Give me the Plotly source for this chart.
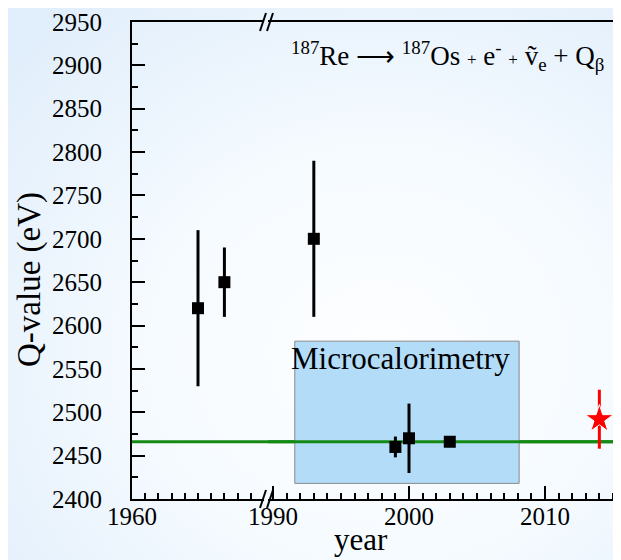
import base64
import plotly.graph_objects as go

# ---------------- data ----------------
years_early = [1965, 1967]
q_early = [2620, 2650]
err_early = [90, 40]

years_late = [1993, 1999, 2000, 2003]
q_late = [2700, 2460, 2470, 2466]
err_late = [90, 12, 40, 3]

star_year = [2014]
star_q = [2492]
star_err = [34]

reference_q = 2466
micro_box_years = [1991.6, 2008.1]
micro_box_q = [2418, 2582]

y_range = [2400, 2950]
x_left_range = [1960, 1970]
x_right_range = [1989.63, 2016.18]
x_left_ticks = [1960]
x_right_ticks = [1990, 2000, 2010]

# ---------------- geometry helpers (pixel -> paper) ----------------
W, H = 621, 560
L, T, B, R = 124, 14, 69, 0
PW, PH = W - L - R, H - T - B


def px(x):
    return (x - L) / PW


def py(y):
    return (H - B - y) / PH


FONT = "Liberation Serif"

fig = go.Figure()

fig.add_trace(go.Scatter(
    x=years_early, y=q_early, mode="markers", xaxis="x", yaxis="y",
    marker=dict(symbol="square", size=12, color="black"),
    error_y=dict(type="data", array=err_early, width=0, thickness=3, color="black"),
    showlegend=False, cliponaxis=False))

fig.add_trace(go.Scatter(
    x=years_late, y=q_late, mode="markers", xaxis="x2", yaxis="y",
    marker=dict(symbol="square", size=12, color="black"),
    error_y=dict(type="data", array=err_late, width=0, thickness=3, color="black"),
    showlegend=False, cliponaxis=False))

fig.add_trace(go.Scatter(
    x=star_year, y=star_q, mode="markers", xaxis="x2", yaxis="y",
    marker=dict(symbol="star", size=21, color="red", line=dict(color="white", width=1)),
    error_y=dict(type="data", array=star_err, width=0, thickness=3, color="red"),
    showlegend=False, cliponaxis=False))

# background gradient (slide-like)
svg = ('<svg xmlns="http://www.w3.org/2000/svg" width="621" height="560">'
       '<defs><radialGradient id="g" cx="0.6" cy="0.62" r="0.8">'
       '<stop offset="0" stop-color="#fdfeff"/>'
       '<stop offset="0.45" stop-color="#f6fbff"/>'
       '<stop offset="1" stop-color="#e1eefb"/>'
       '</radialGradient></defs>'
       '<rect width="621" height="560" fill="url(#g)"/></svg>')
src = "data:image/svg+xml;base64," + base64.b64encode(svg.encode()).decode()
fig.add_layout_image(dict(source=src, xref="paper", yref="paper",
                          x=px(0), y=py(0), sizex=px(W) - px(0), sizey=py(0) - py(H),
                          xanchor="left", yanchor="top", sizing="stretch", layer="below"))

shapes = []
# green reference line under everything (covers left panel and the gap)
shapes.append(dict(type="line", xref="paper", yref="y", x0=0, x1=1,
                   y0=reference_q, y1=reference_q,
                   line=dict(color="#148a14", width=3), layer="below"))
shapes.append(dict(type="rect", xref="x2", yref="y",
                   x0=micro_box_years[0], x1=micro_box_years[1],
                   y0=micro_box_q[0], y1=micro_box_q[1],
                   fillcolor="#b3dcf9", line=dict(color="#8a8a8a", width=1), layer="below"))
# green line again over the box (in the right subplot)
shapes.append(dict(type="line", xref="x2", yref="y",
                   x0=x_right_range[0], x1=x_right_range[1],
                   y0=reference_q, y1=reference_q,
                   line=dict(color="#148a14", width=3), layer="below"))

# axis break marks
for yc in (T, H - B):
    for xc in (255, 262):
        shapes.append(dict(type="line", xref="paper", yref="paper",
                           x0=px(xc - 3), y0=py(yc + 9), x1=px(xc + 3), y1=py(yc - 9),
                           line=dict(color="black", width=2)))
fig.update_layout(shapes=shapes)

annotations = [
    dict(text="Microcalorimetry", xref="paper", yref="paper", x=px(392), y=py(350),
         xanchor="center", yanchor="middle",
         showarrow=False, font=dict(family=FONT, size=31, color="black")),
    dict(text="<sup>187</sup>Re \u27f6 <sup>187</sup>Os <span style='font-size:17px'>+</span> e<sup>-</sup>"
              " <span style='font-size:17px'>+</span> \u1e7d<sub>e</sub> + Q<sub>\u03b2</sub>",
         xref="paper", yref="paper", x=px(439), y=py(27), xanchor="center", yanchor="top",
         showarrow=False, font=dict(family=FONT, size=27, color="black")),
    dict(text="year", xref="paper", yref="paper", x=px(353), y=py(531),
         xanchor="center", yanchor="middle",
         showarrow=False, font=dict(family=FONT, size=31, color="black")),
    dict(text="Q-value (eV)", xref="paper", yref="paper", x=px(21), y=py(272),
         xanchor="center", yanchor="middle",
         textangle=-90, showarrow=False, font=dict(family=FONT, size=33, color="black")),
]
fig.update_layout(annotations=annotations)

axis_common = dict(showline=True, linecolor="black", linewidth=2, mirror=True,
                   ticks="inside", ticklen=13, tickwidth=2, tickcolor="black",
                   showgrid=False, zeroline=False,
                   tickfont=dict(family=FONT, size=25, color="black"),
                   minor=dict(ticks="inside", ticklen=6, tickwidth=2, tickcolor="black",
                              dtick=1, showgrid=False))

fig.update_layout(
    width=W, height=H,
    font=dict(family=FONT, color="black"),
    margin=dict(l=L, r=R, t=T, b=B, pad=0),
    paper_bgcolor="#f3f9fe", plot_bgcolor="rgba(0,0,0,0)",
    xaxis=dict(domain=[0, px(256)], range=x_left_range, tickmode="array",
               tickvals=x_left_ticks, ticktext=[str(v) for v in x_left_ticks],
               ticklabelstandoff=-6, anchor="y", **axis_common),
    xaxis2=dict(domain=[px(260), 1], range=x_right_range, tickmode="array",
                tickvals=x_right_ticks, ticktext=[str(v) for v in x_right_ticks],
                ticklabelstandoff=-6, anchor="y", **axis_common),
    yaxis=dict(range=y_range, dtick=50, tick0=2400, showline=True, linecolor="black",
               linewidth=2, ticks="inside", ticklen=13, tickwidth=2, tickcolor="black",
               showgrid=False, zeroline=False, ticklabelstandoff=23,
               tickfont=dict(family=FONT, size=25, color="black"),
               minor=dict(ticks="inside", ticklen=6, tickwidth=2, tickcolor="black",
                          dtick=25, showgrid=False)),
)

fig.write_html("out.html")
